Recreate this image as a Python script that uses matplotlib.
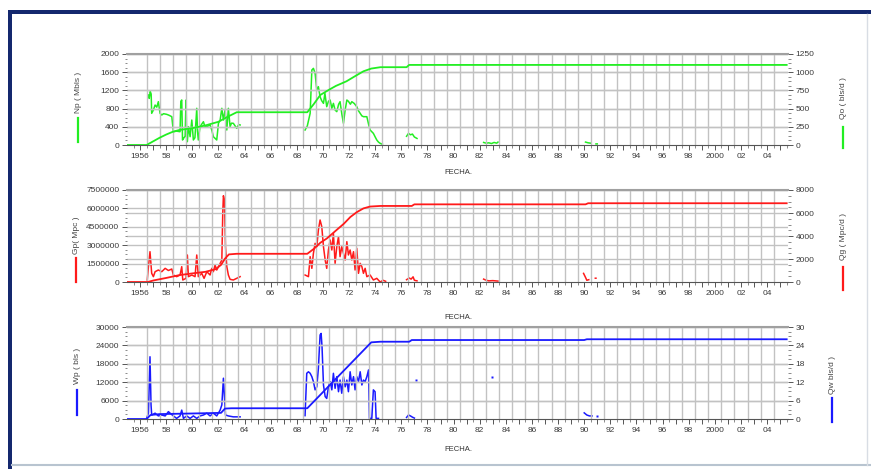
import numpy as np
import matplotlib
matplotlib.use('Agg')
import matplotlib.pyplot as plt
from matplotlib.lines import Line2D
from matplotlib.patches import Rectangle
from matplotlib.ticker import AutoMinorLocator

plt.rcParams['font.family'] = ['Liberation Sans', 'DejaVu Sans']
nan = np.nan

### panel 1 - oil: cumulative Np (Mbls) and rate Qo (bls/d)
np_years = [1955.0, 1956.5, 1957.0, 1957.5, 1958.0, 1958.5, 1959.0, 1960.0, 1961.0, 1962.0, 1962.7, 1963.4,
            1968.8, 1969.3, 1969.8, 1970.5, 1971.0, 1971.8, 1972.5, 1973.1, 1973.7, 1974.4, 1976.4, 1976.6, 2005.5]
np_vals = [0, 0, 80, 160, 230, 290, 330, 370, 430, 510, 620, 720,
           720, 900, 1100, 1220, 1300, 1400, 1520, 1620, 1680, 1710, 1710, 1760, 1760]
qo_years = [1956.64, 1956.70, 1956.78, 1956.85, 1956.89, 1957.02, 1957.15, 1957.28, 1957.40, 1957.53, 1957.66, 1957.8,
            1958.04, 1958.2, 1958.43, 1958.55, 1958.8, 1959.06, 1959.12, 1959.19, 1959.25, 1959.32, 1959.45, 1959.52,
            1959.57, 1959.62, 1959.70, 1959.83, 1959.96, 1960.08, 1960.2, 1960.34, 1960.40, 1960.46, 1960.59, 1960.85,
            1960.95, 1961.11, 1961.36, 1961.5, 1961.61, 1961.75, 1961.87, 1962.0, 1962.13, 1962.26, 1962.38, 1962.51,
            1962.64, 1962.76, 1962.89, 1963.0, 1963.14, 1963.40, 1963.55, 1963.66, nan,
            1968.63, 1968.8, 1969.02, 1969.10, 1969.15, 1969.27, 1969.40, 1969.53, 1969.65, 1969.78, 1969.9, 1970.04,
            1970.15, 1970.29, 1970.42, 1970.55, 1970.68, 1970.80, 1970.93, 1971.06, 1971.2, 1971.31, 1971.45, 1971.57,
            1971.7, 1971.83, 1971.95, 1972.1, 1972.21, 1972.4, 1972.59, 1972.72, 1972.85, 1972.98, 1973.10, 1973.36,
            1973.5, 1973.61, 1973.86, 1974.0, 1974.12, 1974.25, 1974.38, 1974.55, nan,
            1976.4, 1976.55, 1976.7, 1976.85, 1977.0, 1977.2, nan,
            1982.3, 1982.5, 1982.7, 1982.9, 1983.1, 1983.3, 1983.4, nan,
            1990.1, 1990.3, 1990.5, nan, 1990.9, 1991.0]
qo_vals = [687, 640, 735, 700, 435, 480, 549, 520, 595, 435, 412, 430,
           421, 410, 389, 183, 190, 183, 600, 618, 69, 90, 120, 618,
           60, 46, 252, 114, 343, 69, 100, 504, 180, 69, 252, 320,
           260, 252, 275, 200, 114, 90, 69, 298, 343, 504, 343, 481,
           206, 504, 252, 300, 298, 229, 280, 275, nan,
           206, 260, 435, 800, 1030, 1053, 985, 755, 801, 663, 610, 572,
           710, 526, 600, 618, 504, 572, 480, 458, 560, 595, 420, 298,
           480, 618, 600, 560, 595, 570, 526, 470, 435, 400, 389, 389,
           280, 206, 160, 110, 69, 40, 23, 10, nan,
           120, 160, 140, 150, 110, 90, nan,
           35, 25, 30, 20, 35, 25, 40, nan,
           40, 30, 25, nan, 15, 15]

### panel 2 - gas: cumulative Gp (Mpc) and rate Qg (Mpc/d)
gp_years = [1955.0, 1956.6, 1957.0, 1958.0, 1959.0, 1960.0, 1961.0, 1961.8, 1962.2, 1962.5, 1962.8, 1963.4,
            1968.8, 1969.3, 1969.8, 1970.3, 1971.0, 1971.6, 1972.1, 1972.6, 1973.1, 1973.6, 1974.4,
            1976.8, 1977.0, 1990.1, 1990.3, 2005.5]
gp_vals = [0, 0, 120000, 330000, 560000, 700000, 830000, 1050000, 1400000, 1900000, 2250000, 2300000,
           2300000, 2700000, 3200000, 3550000, 4200000, 4750000, 5300000, 5700000, 6000000, 6150000, 6200000,
           6200000, 6330000, 6330000, 6420000, 6420000]
qg_years = [1956.55, 1956.64, 1956.76, 1956.89, 1957.02, 1957.15, 1957.40, 1957.66, 1957.92, 1958.17, 1958.43,
            1958.55, 1958.8, 1959.06, 1959.19, 1959.27, 1959.52, 1959.62, 1959.70, 1959.96, 1960.21, 1960.34,
            1960.46, 1960.72, 1960.9, 1961.11, 1961.36, 1961.49, 1961.61, 1961.74, 1961.87, 1962.0, 1962.13,
            1962.26, 1962.33, 1962.38, 1962.46, 1962.54, 1962.64, 1962.76, 1962.89, 1963.14, 1963.40, 1963.66, nan,
            1968.63, 1968.89, 1969.02, 1969.15, 1969.27, 1969.40, 1969.53, 1969.65, 1969.78, 1969.91, 1970.04,
            1970.17, 1970.29, 1970.42, 1970.55, 1970.68, 1970.80, 1970.93, 1971.06, 1971.19, 1971.31, 1971.44,
            1971.57, 1971.70, 1971.83, 1971.95, 1972.08, 1972.21, 1972.34, 1972.46, 1972.59, 1972.72, 1972.85,
            1972.98, 1973.10, 1973.23, 1973.36, 1973.61, 1973.86, 1974.12, 1974.38, 1974.6, 1974.8, nan,
            1976.4, 1976.6, 1976.75, 1976.9, 1977.0, 1977.2, nan,
            1982.3, 1982.5, 1982.7, 1983.0, 1983.4, nan,
            1989.95, 1990.1, 1990.2, 1990.35, nan, 1990.85, 1990.9]
qg_vals = [174, 1333, 2635, 754, 464, 896, 1043, 896, 1188, 1000, 1130,
           609, 464, 609, 1333, 174, 319, 2348, 464, 609, 464, 2348,
           464, 754, 319, 896, 609, 1188, 896, 1478, 1043, 1333, 1623,
           1913, 5971, 7500, 7130, 3072, 1333, 609, 232, 174, 319, 464, nan,
           609, 464, 2203, 1188, 2493, 3362, 3072, 4522, 5391, 4812, 3072,
           1913, 1188, 2783, 3652, 2783, 4232, 1623, 3072, 3942, 2203, 3072,
           2493, 1913, 3507, 2348, 2783, 1913, 2635, 1043, 2928, 754, 1623,
           1333, 754, 1188, 464, 609, 174, 319, 0, 150, 60, nan,
           200, 350, 250, 450, 150, 100, nan,
           250, 150, 100, 120, 80, nan,
           750, 400, 150, 200, nan, 330, 330]

### panel 3 - water: cumulative Wp (bls) and rate Qw (bls/d)
wp_years = [1955.0, 1956.5, 1956.8, 1957.5, 1960.0, 1962.2, 1962.5, 1963.0, 1968.8, 1973.7, 1974.4,
            1976.6, 1976.8, 1990.0, 1990.2, 2005.5]
wp_vals = [0, 0, 1300, 1600, 1800, 2000, 3400, 3500, 3500, 25000, 25200,
           25200, 25750, 25750, 26000, 26000]
qw_years = [1956.5, 1956.64, 1956.76, 1956.84, 1956.89, 1957.15, 1957.40, 1957.66, 1957.92, 1958.17, 1958.30,
            1958.55, 1958.80, 1959.06, 1959.19, 1959.32, 1959.57, 1959.83, 1960.08, 1960.34, 1960.59, 1960.85,
            1961.11, 1961.36, 1961.61, 1961.87, 1962.13, 1962.26, 1962.38, 1962.46, 1962.54, 1962.76, 1963.14,
            1963.66, nan,
            1968.63, 1968.76, 1968.89, 1969.02, 1969.15, 1969.27, 1969.40, 1969.53, 1969.65, 1969.78, 1969.86,
            1969.93, 1970.04, 1970.17, 1970.29, 1970.42, 1970.55, 1970.68, 1970.80, 1970.93, 1971.06, 1971.19,
            1971.31, 1971.44, 1971.57, 1971.70, 1971.83, 1971.95, 1972.08, 1972.21, 1972.34, 1972.46, 1972.59,
            1972.72, 1972.85, 1972.98, 1973.10, 1973.23, 1973.36, 1973.49, 1973.56, 1973.74, 1973.86, 1973.99,
            1974.07, 1974.25, nan,
            1976.4, 1976.55, 1976.7, 1976.85, 1977.0, nan,
            1990.0, 1990.2, 1990.4, 1990.6]
qw_vals = [0.2, 1.9, 20.3, 4.6, 1.3, 1.9, 1.0, 1.3, 1.0, 2.4, 1.9,
           1.0, 0.2, 1.0, 2.9, 0.2, 1.0, 0.2, 1.0, 0.2, 1.0, 1.3,
           1.9, 1.0, 1.9, 1.0, 2.9, 4.6, 13.3, 7.3, 1.3, 1.0, 0.7,
           0.7, nan,
           1.1, 14.9, 15.4, 14.9, 13.8, 12.2, 9.5, 10.5, 16.5, 27.4, 27.9,
           23.6, 11.1, 7.3, 6.7, 10.5, 12.2, 9.5, 14.9, 10.0, 13.8, 8.9,
           12.7, 8.4, 13.8, 10.5, 12.7, 8.9, 15.4, 11.1, 13.8, 9.5, 13.8,
           12.2, 15.4, 11.1, 12.7, 12.2, 13.8, 16.0, 0.2, 0.2, 9.5, 8.9,
           0.2, 0.2, nan,
           0.5, 1.3, 1.0, 0.6, 0.3, nan,
           2.0, 1.3, 1.0, 1.0]
qw_dot_years = [1977.1, 1982.93, 1990.97]
qw_dot_vals = [12.7, 13.6, 0.9]

W, H = 871, 469
fig = plt.figure(figsize=(W/100, H/100), dpi=100)
fig.patch.set_facecolor('white')

def fx(px):
    return px/W

def fy(py):
    return 1 - py/H

def year_label(y):
    if y % 2:
        return ''
    if y in (1956, 2000):
        return str(y)
    return '%02d' % (y % 100)

years = list(range(1956, 2006))
grid_c = '#c2c2c2'
tick_c = '#3a3a3a'

def make_panel(top, bot, color, cum_x, cum_y, rate_x, rate_y, lticks, lmax, rticks, rmax):
    ax = fig.add_axes([fx(127), fy(bot), fx(788-127), (bot-top)/H])
    axr = ax.twinx()
    ax.set_xlim(1955.0, 2005.6)
    ax.set_ylim(0, lmax)
    axr.set_ylim(0, rmax)

    # grid lines, vertical at mid-year, horizontal at both axes' ticks
    for g in np.arange(1956.5, 2005.0, 1.0):
        ax.axvline(g, color=grid_c, lw=1.0, zorder=0)
    for t in lticks[1:]:
        ax.axhline(t, color=grid_c, lw=1.0, zorder=0)
    for t in rticks[1:]:
        ax.axhline(t*lmax/rmax, color=grid_c, lw=1.0, zorder=0)

    ax.plot(cum_x, cum_y, color=color, lw=1.3, zorder=3)
    axr.plot(rate_x, rate_y, color=color, lw=1.1, zorder=3)

    ax.set_xticks(years)
    ax.set_xticklabels([year_label(y) for y in years])
    ax.set_xticks(np.arange(1955.5, 2005.6, 1.0), minor=True)
    ax.set_yticks(lticks)
    ax.set_yticklabels([str(t) for t in lticks])
    axr.set_yticks(rticks)
    axr.set_yticklabels([str(t) for t in rticks])
    ax.yaxis.set_minor_locator(AutoMinorLocator(4))
    axr.yaxis.set_minor_locator(AutoMinorLocator(4))

    for a in (ax, axr):
        a.tick_params(axis='both', which='major', labelsize=6, labelcolor=tick_c, color='#555555',
                      length=3.5, width=0.7, pad=2)
        a.tick_params(axis='both', which='minor', color='#777777', length=1.8, width=0.6)
        for s in a.spines.values():
            s.set_visible(False)
    ax.spines['top'].set_visible(True)
    ax.spines['top'].set_color('#a0a0a0')
    ax.spines['top'].set_linewidth(1.5)
    ax.spines['bottom'].set_visible(True)
    ax.spines['bottom'].set_color('#555555')
    ax.spines['bottom'].set_linewidth(0.8)
    ax.set_zorder(axr.get_zorder() + 1)
    ax.patch.set_visible(False)
    return ax, axr

ax1, ax1r = make_panel(54, 145, '#22ee22', np_years, np_vals, qo_years, qo_vals,
                       [0, 400, 800, 1200, 1600, 2000], 2000, [0, 250, 500, 750, 1000, 1250], 1250)
ax2, ax2r = make_panel(190, 282, '#ff1a1a', gp_years, gp_vals, qg_years, qg_vals,
                       [0, 1500000, 3000000, 4500000, 6000000, 7500000], 7500000,
                       [0, 2000, 4000, 6000, 8000], 8000)
ax3, ax3r = make_panel(327, 419, '#1a1aff', wp_years, wp_vals, qw_years, qw_vals,
                       [0, 6000, 12000, 18000, 24000, 30000], 30000, [0, 6, 12, 18, 24, 30], 30)
ax3r.plot(qw_dot_years, qw_dot_vals, ls='none', marker='s', ms=1.6, color='#1a1aff', mec='none')

# FECHA. labels
for py in (172, 317, 449):
    fig.text(fx(458), fy(py), 'FECHA.', fontsize=5.5, color='#333333', ha='center', va='center')

# axis titles with colour keys
def side_label(px, ty, text, ly0, ly1, color):
    fig.text(fx(px), fy(ty), text, rotation=90, fontsize=6, color='#444444', ha='center', va='center')
    fig.add_artist(Line2D([fx(px), fx(px)], [fy(ly0), fy(ly1)], color=color, lw=1.6))

side_label(78, 92, 'Np ( Mbls )', 118, 142, '#22ee22')
side_label(76, 235, 'Gp( Mpc )', 258, 282, '#ff1a1a')
side_label(77, 366, 'Wp ( bls )', 390, 415, '#1a1aff')
side_label(843, 98, 'Qo ( bls/d )', 127, 148, '#22ee22')
side_label(843, 236, 'Qg ( Mpc/d )', 267, 290, '#ff1a1a')
side_label(832, 375, 'Qw bls/d )', 398, 422, '#1a1aff')

# window frame
fig.add_artist(Rectangle((fx(8), fy(14)), 1 - fx(8), 4/H, color='#14286e', lw=0))
fig.add_artist(Rectangle((fx(8), 0), 4/W, fy(10), color='#14286e', lw=0))
fig.add_artist(Line2D([fx(12), 1], [fy(465), fy(465)], color='#b8c4d0', lw=1.5))
fig.add_artist(Line2D([fx(867), fx(867)], [fy(14), fy(465)], color='#d8dde4', lw=1.0))

fig.savefig('out.png', dpi=100)
